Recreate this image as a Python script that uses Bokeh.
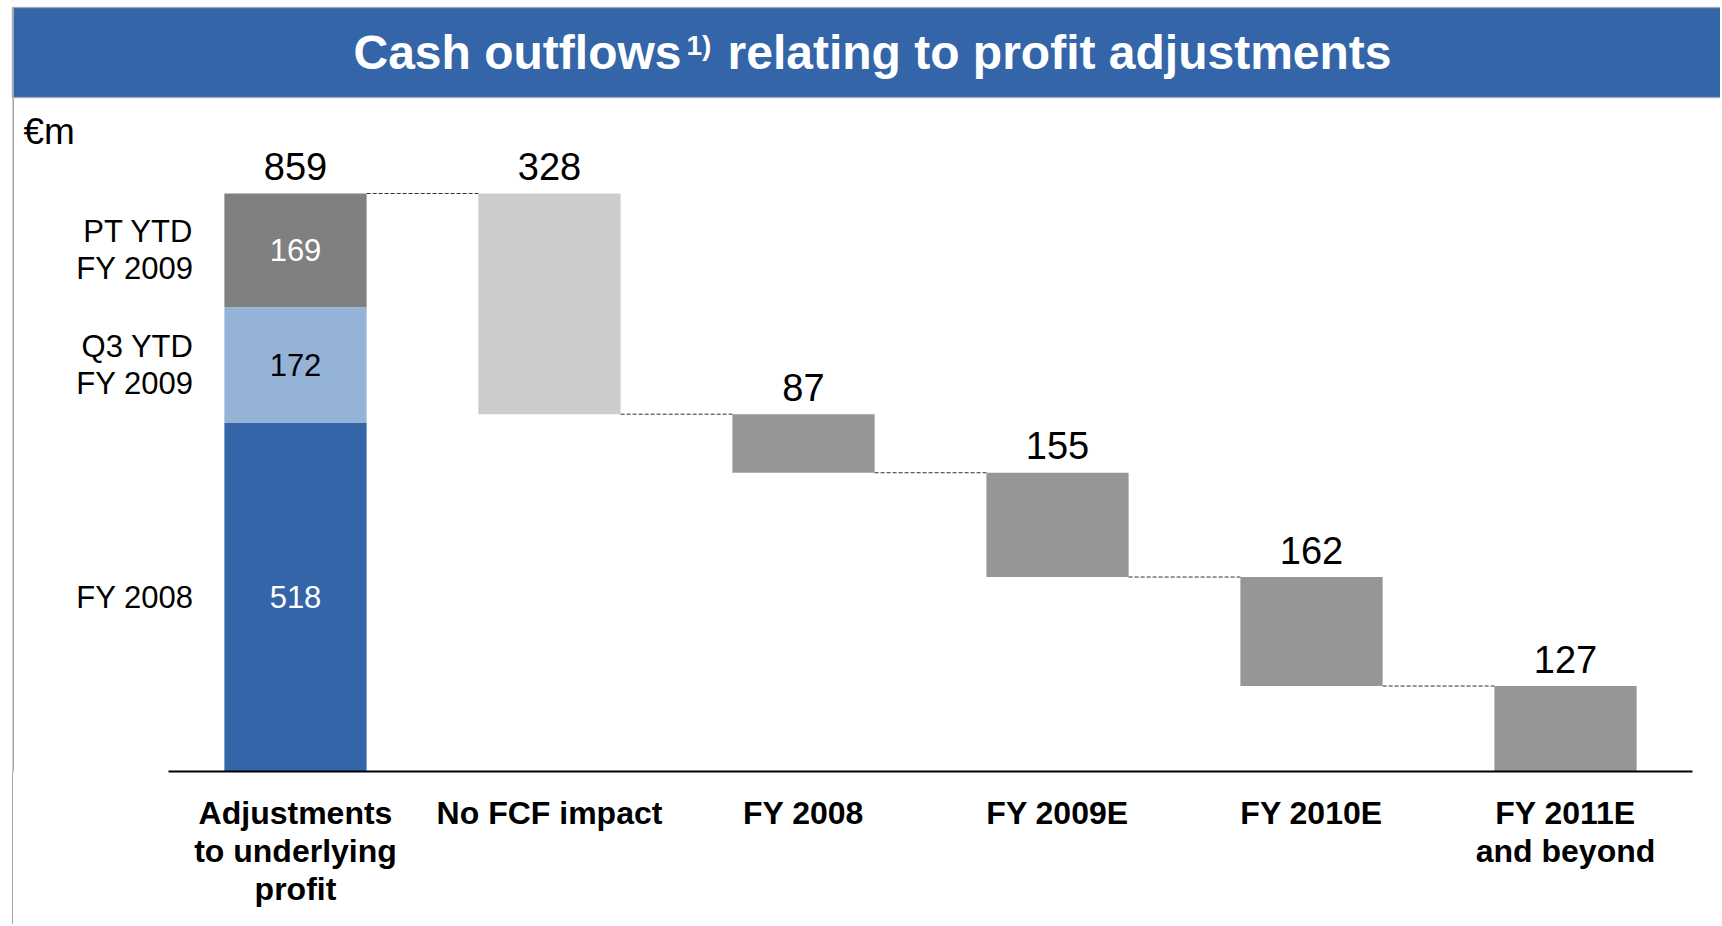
import numpy as np
from bokeh.plotting import figure
from bokeh.models import (ColumnDataSource, Range1d, FixedTicker, BoxAnnotation, Label)
from bokeh.core.properties import value
from bokeh.embed import file_html
from bokeh.resources import INLINE

# ---------------- data ----------------
categories = ["Adjustments\nto underlying\nprofit", "No FCF impact", "FY 2008",
              "FY 2009E", "FY 2010E", "FY 2011E\nand beyond"]
stack_labels = ["FY 2008", "Q3 YTD\nFY 2009", "PT YTD\nFY 2009"]
stack_values = [518, 172, 169]
stack_colors = ["#3465A9", "#95B3D7", "#808080"]
stack_text_colors = ["white", "black", "white"]
step_values = [328, 87, 155, 162, 127]
step_colors = ["#CCCCCC", "#969696", "#969696", "#969696", "#969696"]
title_main = "Cash outflows"
title_note = "1)"
title_rest = "relating to profit adjustments"
unit_label = "€m"

FONT = "Liberation Sans"
W, H = 1720, 924
BAR_W = 0.56
FB = 771  # frame height in px (screen units measured up from frame bottom)

total = sum(stack_values)

p = figure(width=W, height=H, output_backend="svg", toolbar_location=None,
           x_range=Range1d(-1.1614, 5.6102), y_range=Range1d(0, 1145.8),
           y_axis_location=None, min_border_left=0, min_border_right=0,
           min_border_top=0, min_border_bottom=H - FB)
p.outline_line_color = None
p.xgrid.visible = False
p.ygrid.visible = False
p.background_fill_color = "white"
p.border_fill_color = None
p.styles = {"background": "linear-gradient(to right, white 12px, #A6A6A6 12px, "
                          "#A6A6A6 13.5px, white 13.5px)"}

# ---------------- stacked first bar ----------------
bottoms = np.concatenate([[0], np.cumsum(stack_values)[:-1]])
tops = np.cumsum(stack_values)
src_stack = ColumnDataSource(dict(x=[0] * len(stack_values), bottom=bottoms, top=tops,
                                  mid=(bottoms + tops) / 2, color=stack_colors,
                                  val=[str(v) for v in stack_values],
                                  tcolor=stack_text_colors, lab=stack_labels))
p.vbar(x="x", bottom="bottom", top="top", width=BAR_W, color="color",
       line_color=None, source=src_stack)
p.text(x="x", y="mid", text="val", text_color="tcolor", text_align="center",
       text_baseline="middle", text_font=value(FONT), text_font_size="31px",
       source=src_stack)
p.text(x="x", y="mid", text="lab", text_color="black", text_align="right",
       text_baseline="middle", text_font=value(FONT), text_font_size="31px",
       text_line_height=1.06, x_offset=-102, source=src_stack)

# ---------------- waterfall steps ----------------
step_x = list(range(1, len(step_values) + 1))
step_top = total - np.concatenate([[0], np.cumsum(step_values)[:-1]])
step_bot = step_top - np.array(step_values)
src_step = ColumnDataSource(dict(x=step_x, top=step_top, bottom=step_bot,
                                 color=step_colors))
p.vbar(x="x", bottom="bottom", top="top", width=BAR_W, color="color",
       line_color=None, source=src_step)

# connectors
levels = [total] + list(step_bot[:-1])
conn_x0 = [i + BAR_W / 2 for i in range(len(levels))]
conn_x1 = [i + 1 - BAR_W / 2 for i in range(len(levels))]
p.segment(x0=conn_x0, y0=levels, x1=conn_x1, y1=levels, line_color="#303030",
          line_width=1, line_dash="4 2")

# value labels
lab_x = [0] + step_x
lab_y = [total] + list(step_top)
lab_t = [str(total)] + [str(v) for v in step_values]
p.text(x=lab_x, y=lab_y, text=lab_t, text_align="center", text_baseline="middle",
       y_offset=-27, text_font=value(FONT), text_font_size="38px", text_color="black")

# ---------------- axis ----------------
ax = p.xaxis[0]
ax.ticker = FixedTicker(ticks=list(range(len(categories))))
ax.major_label_overrides = {i: c for i, c in enumerate(categories)}
ax.bounds = (-0.5, len(categories) - 0.5)
ax.axis_line_color = "black"
ax.axis_line_width = 2
ax.major_tick_line_color = None
ax.minor_tick_line_color = None
ax.major_tick_in = 0
ax.major_tick_out = 0
ax.major_label_standoff = 23
ax.major_label_text_font = FONT
ax.major_label_text_font_style = "bold"
ax.major_label_text_font_size = "32px"
ax.major_label_text_color = "black"
ax.major_label_text_line_height = 1.06

# ---------------- banner / decorations ----------------
p.add_layout(BoxAnnotation(left=12, right=13.5, top=FB - 7, bottom=-(H - FB) - 5,
                           left_units="screen", right_units="screen",
                           top_units="screen", bottom_units="screen",
                           fill_color="#A6A6A6", fill_alpha=1, line_color=None,
                           level="overlay"))
p.add_layout(BoxAnnotation(left=12, right=W + 10, top=FB - 7, bottom=FB - 97,
                           left_units="screen", right_units="screen",
                           top_units="screen", bottom_units="screen",
                           fill_color="#3465A9", fill_alpha=1,
                           line_color="#A0A0A0", line_width=2))
p.add_layout(Label(x=681, y=FB - 52, x_units="screen", y_units="screen",
                   text=title_main, text_align="right", text_baseline="middle",
                   text_font=FONT, text_font_style="bold", text_font_size="48px",
                   text_color="white"))
p.add_layout(Label(x=686, y=FB - 45, x_units="screen", y_units="screen",
                   text=title_note, text_align="left", text_baseline="middle",
                   text_font=FONT, text_font_style="bold", text_font_size="28px",
                   text_color="white"))
p.add_layout(Label(x=727, y=FB - 52, x_units="screen", y_units="screen",
                   text=title_rest, text_align="left", text_baseline="middle",
                   text_font=FONT, text_font_style="bold", text_font_size="48px",
                   text_color="white"))
p.add_layout(Label(x=23, y=FB - 131, x_units="screen", y_units="screen",
                   text=unit_label, text_align="left", text_baseline="middle",
                   text_font=FONT, text_font_size="37px", text_color="black"))

open("out.html", "w").write(file_html(p, INLINE))
